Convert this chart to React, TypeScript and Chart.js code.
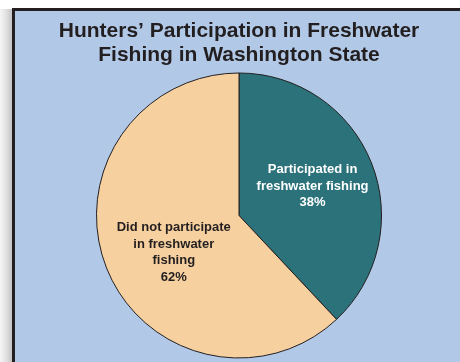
import React, { useEffect, useRef } from "react";
import { Chart, registerables } from "chart.js";

Chart.register(...registerables);

const categories = ["Participated in freshwater fishing", "Did not participate in freshwater fishing"];
const shares = [38, 62];
const labelLines = [
  ["Participated in", "freshwater fishing", "38%"],
  ["Did not participate", "in freshwater", "fishing", "62%"],
];
const titleLines = ["Hunters\u2019 Participation in Freshwater", "Fishing in Washington State"];

const sliceColors = ["#2b727a", "#f7d0a0"];
const labelColors = ["#ffffff", "#231f20"];
const labelRadial = [0.555, 0.53];
const labelShift = [[0, 0], [5, 9]];

const FONT = "'Liberation Sans', Arial, Helvetica, sans-serif";

const sliceLabels = {
  id: "sliceLabels",
  afterDatasetsDraw(chart: any) {
    const ctx = chart.ctx;
    const meta = chart.getDatasetMeta(0);
    ctx.save();
    ctx.font = `bold 13px ${FONT}`;
    ctx.textAlign = "center";
    ctx.textBaseline = "middle";
    meta.data.forEach((arc: any, i: number) => {
      const { x, y, startAngle, endAngle, outerRadius } = arc.getProps(
        ["x", "y", "startAngle", "endAngle", "outerRadius"],
        true
      );
      const mid = (startAngle + endAngle) / 2;
      const r = outerRadius * labelRadial[i];
      const cx = x + Math.cos(mid) * r + labelShift[i][0];
      const cy = y + Math.sin(mid) * r + labelShift[i][1];
      const lines = labelLines[i];
      const lh = 16.5;
      const top = cy - ((lines.length - 1) * lh) / 2;
      ctx.fillStyle = labelColors[i];
      lines.forEach((t, k) => ctx.fillText(t, cx, top + k * lh));
    });
    ctx.restore();
  },
};

export default function App() {
  const ref = useRef<HTMLCanvasElement | null>(null);
  useEffect(() => {
    if (!ref.current) return;
    const chart = new Chart(ref.current, {
      type: "pie",
      data: {
        labels: categories,
        datasets: [
          {
            data: shares,
            backgroundColor: sliceColors,
            borderColor: "#231f20",
            borderWidth: 1,
          },
        ],
      },
      options: {
        animation: false,
        responsive: false,
        maintainAspectRatio: false,
        layout: { padding: { top: 0, left: 0, right: 0, bottom: 3.5 } },
        plugins: {
          legend: { display: false },
          tooltip: { enabled: false },
          title: {
            display: true,
            text: titleLines,
            color: "#231f20",
            font: { family: FONT, size: 21, weight: "bold", lineHeight: 24 / 21 },
            padding: { top: 8.7, bottom: 4.8 },
          },
        },
      },
      plugins: [sliceLabels],
    });
    return () => chart.destroy();
  }, []);

  return (
    <div
      style={{
        position: "fixed",
        left: 0,
        top: 0,
        width: 460,
        height: 362,
        overflow: "hidden",
        background: "#ffffff",
      }}
    >
      <div
        style={{
          position: "absolute",
          left: 0,
          top: 9,
          width: 13,
          height: 360,
          background: "linear-gradient(to right, #f6f6f6 0%, #e0e0e0 50%, #bdbdbd 100%)",
        }}
      />
      <div
        style={{
          position: "absolute",
          left: 12,
          top: 8,
          width: 460,
          height: 360,
          borderLeft: "3px solid #231f20",
          borderTop: "3px solid #231f20",
          background: "#b1c9e7",
        }}
      />
      <canvas
        ref={ref}
        width={448}
        height={351}
        style={{ position: "absolute", left: 15, top: 11, width: 448, height: 351 }}
      />
    </div>
  );
}
